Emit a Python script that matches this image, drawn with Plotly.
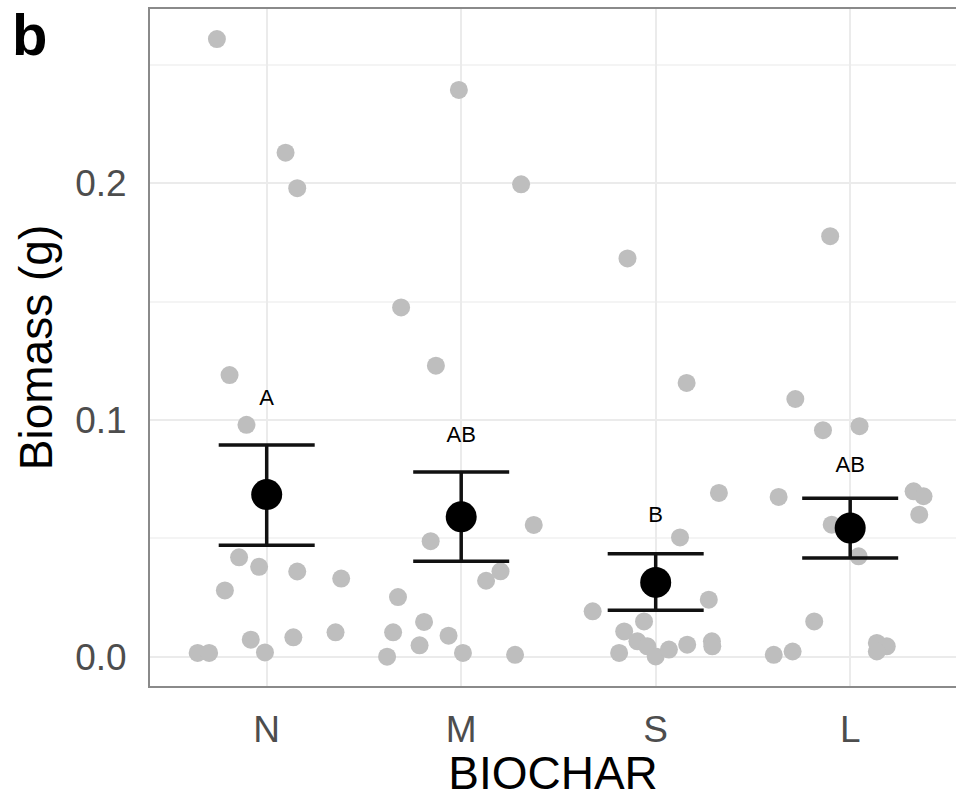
import plotly.graph_objects as go

categories = ["N", "M", "S", "L"]

n_vals = [0.261, 0.213, 0.198, 0.119, 0.098, 0.042, 0.038, 0.028, 0.036, 0.033,
          0.0016, 0.0016, 0.0072, 0.0018, 0.0082, 0.0103]
n_jit = [-0.256, 0.097, 0.157, -0.191, -0.104, -0.142, -0.039, -0.215, 0.157, 0.383,
         -0.355, -0.296, -0.082, -0.009, 0.137, 0.354]

m_vals = [0.2395, 0.1996, 0.1476, 0.123, 0.0488, 0.0557, 0.0321, 0.0361, 0.0252, 0.0103,
          0.0147, 0.0048, 0.0089, 0.0, 0.0016, 0.0008]
m_jit = [-0.012, 0.308, -0.309, -0.130, -0.157, 0.373, 0.128, 0.202, -0.325, -0.350,
         -0.191, -0.214, -0.065, -0.381, 0.009, 0.277]

s_vals = [0.1683, 0.1157, 0.0692, 0.0504, 0.0241, 0.0192, 0.0149, 0.0107, 0.0016, 0.0065,
          0.0044, 0.0001, 0.0030, 0.0051, 0.0065, 0.0044]
s_jit = [-0.145, 0.159, 0.325, 0.125, 0.273, -0.324, -0.060, -0.162, -0.188, -0.094,
         -0.043, 0.000, 0.068, 0.162, 0.289, 0.291]

l_vals = [0.1777, 0.1089, 0.0957, 0.0974, 0.0675, 0.0699, 0.0678, 0.0600, 0.0558, 0.0424,
          0.0008, 0.0022, 0.0149, 0.0058, 0.0044, 0.0022]
l_jit = [-0.103, -0.282, -0.140, 0.048, -0.368, 0.326, 0.377, 0.355, -0.095, 0.043,
         -0.393, -0.296, -0.185, 0.137, 0.188, 0.137]

# group means with interval bounds
means = [0.0685, 0.0591, 0.0314, 0.0544]
upper = [0.0895, 0.0781, 0.0435, 0.0670]
lower = [0.0471, 0.0403, 0.0196, 0.0417]

# significance letters
letters = ["A", "AB", "B", "AB"]
letter_y = [0.1087, 0.0932, 0.0593, 0.0804]

FONT = "Liberation Sans, Arial, Helvetica, sans-serif"

fig = go.Figure()

groups = [n_vals, m_vals, s_vals, l_vals]
jits = [n_jit, m_jit, s_jit, l_jit]
xs, ys = [], []
for i, (vals, jit) in enumerate(zip(groups, jits)):
    for v, j in zip(vals, jit):
        xs.append(i + 1 + j)
        ys.append(v)

fig.add_trace(go.Scatter(
    x=xs, y=ys, mode="markers",
    marker=dict(size=18, color="#bebebe", line=dict(width=0)),
    showlegend=False, hoverinfo="y"))

pos = [i + 1 for i in range(len(categories))]
fig.add_trace(go.Scatter(
    x=pos, y=means, mode="markers",
    marker=dict(size=31, color="black", line=dict(width=0)),
    error_y=dict(type="data", symmetric=False,
                 array=[u - m for u, m in zip(upper, means)],
                 arrayminus=[m - l for m, l in zip(means, lower)],
                 color="#111111", thickness=3.5, width=48),
    showlegend=False))

fig.add_trace(go.Scatter(
    x=pos, y=letter_y, mode="text", text=letters,
    textposition="middle center",
    textfont=dict(size=22, color="black", family=FONT),
    showlegend=False, hoverinfo="skip"))

fig.add_annotation(text="<b>b</b>", xref="paper", yref="paper",
                   x=-0.174, y=1.0133, xanchor="left", yanchor="top",
                   showarrow=False, font=dict(size=58, color="black", family=FONT))

fig.update_layout(
    width=956, height=799,
    margin=dict(l=150, r=0, t=9, b=113),
    plot_bgcolor="white", paper_bgcolor="white",
    font=dict(family=FONT),
)

fig.update_xaxes(
    range=[0.4, 4.544], tickvals=pos, ticktext=categories,
    showgrid=True, gridcolor="#ebebeb", gridwidth=2,
    zeroline=False, showline=True, linecolor="#8a8a8a", linewidth=2, mirror=True,
    ticks="", tickfont=dict(size=37, color="#4d4d4d", family=FONT),
    ticklabelstandoff=10,
    title=dict(text="BIOCHAR", font=dict(size=46, color="black", family=FONT), standoff=11),
)

fig.update_yaxes(
    range=[-0.01238, 0.2737], tickvals=[0.0, 0.1, 0.2], ticktext=["0.0", "0.1", "0.2"],
    showgrid=True, gridcolor="#ebebeb", gridwidth=2,
    minor=dict(tickvals=[0.05, 0.15, 0.25], showgrid=True, gridcolor="#f4f4f4", gridwidth=1.5),
    zeroline=False, showline=True, linecolor="#8a8a8a", linewidth=2, mirror=False,
    ticks="", tickfont=dict(size=37, color="#4d4d4d", family=FONT),
    ticklabelstandoff=14,
    title=dict(text="Biomass (g)", font=dict(size=46, color="black", family=FONT), standoff=8),
)

fig.write_html("out.html",
               config={"displayModeBar": False},
               post_script="document.body.style.margin='0';document.body.style.overflow='hidden';")
